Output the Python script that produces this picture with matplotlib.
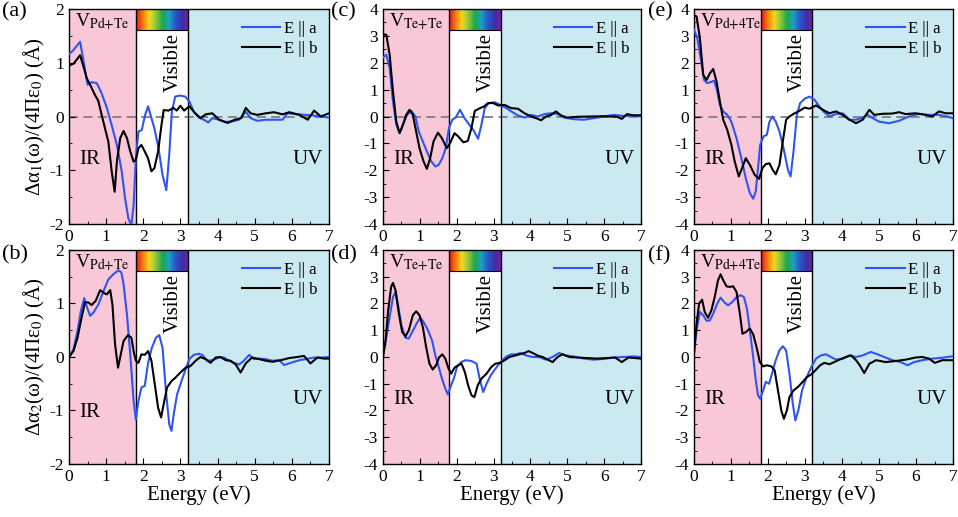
import numpy as np
import matplotlib
matplotlib.use('Agg')
import matplotlib.pyplot as plt
from matplotlib.colors import LinearSegmentedColormap

plt.rcParams['font.family'] = ['Liberation Serif', 'DejaVu Serif']
plt.rcParams['mathtext.fontset'] = 'stix'
plt.rcParams['axes.unicode_minus'] = False

# ---- data (energy in eV, polarizability change in Angstrom^3-like units) ----
# (a) real part, V_Pd+Te
a_ax = [0, 0.1, 0.3, 0.4, 0.5, 0.61, 0.75, 0.88, 1.02, 1.15, 1.29, 1.42, 1.51, 1.6, 1.68, 1.74, 1.8, 1.87, 1.96,
        2.05, 2.13, 2.22, 2.3, 2.41, 2.52, 2.62, 2.7, 2.77, 2.86, 2.99, 3.13, 3.24, 3.36, 3.5, 3.63, 3.75, 3.86,
        4.04, 4.22, 4.4, 4.58, 4.76, 4.89, 5.07, 5.3, 5.48, 5.75, 5.88, 6.2, 6.56, 7.0]
a_ay = [1.16, 1.22, 1.39, 1.0, 0.59, 0.64, 0.62, 0.43, 0.16, -0.16, -0.53, -1.02, -1.52, -1.9, -2.02, -1.65, -0.78,
        -0.28, -0.25, 0.03, 0.19, -0.03, -0.22, -0.59, -1.09, -1.37, -0.71, 0.09, 0.37, 0.39, 0.37, 0.28, 0.09,
        -0.02, -0.06, -0.11, -0.03, -0.06, -0.1, -0.09, -0.06, 0.09, -0.03, -0.08, -0.06, -0.06, -0.06, 0.06, 0.04,
        0.02, -0.02]
a_bx = [0, 0.12, 0.3, 0.39, 0.48, 0.57, 0.7, 0.79, 0.88, 0.97, 1.06, 1.15, 1.23, 1.29, 1.38, 1.47, 1.56, 1.65, 1.74,
        1.8, 1.87, 1.95, 2.04, 2.13, 2.22, 2.3, 2.4, 2.49, 2.55, 2.68, 2.81, 2.9, 3.0, 3.1, 3.24, 3.4, 3.54, 3.68,
        3.86, 4.04, 4.27, 4.46, 4.64, 4.76, 4.89, 5.07, 5.3, 5.52, 5.75, 5.93, 6.2, 6.43, 6.6, 6.78, 7.0]
a_by = [0.95, 0.98, 1.14, 0.93, 0.71, 0.59, 0.4, 0.29, 0.03, -0.22, -0.47, -1.02, -1.4, -0.84, -0.4, -0.27, -0.4,
        -0.65, -0.84, -0.81, -0.59, -0.53, -0.65, -0.78, -1.02, -0.96, -0.65, -0.16, 0.12, 0.11, 0.16, 0.11, 0.2,
        0.11, 0.19, 0.06, -0.03, 0.04, 0.06, -0.06, -0.12, -0.06, -0.03, 0.16, 0.06, 0.03, 0.06, 0.08, 0.04, 0.08,
        0.03, -0.06, 0.11, 0.0, 0.06]

# (b) imaginary part, V_Pd+Te
b_ax = [0, 0.12, 0.23, 0.32, 0.41, 0.49, 0.57, 0.66, 0.79, 0.93, 1.06, 1.2, 1.33, 1.41, 1.47, 1.56, 1.65, 1.74, 1.8,
        1.87, 1.95, 2.04, 2.13, 2.23, 2.34, 2.43, 2.52, 2.61, 2.7, 2.76, 2.82, 2.91, 3.03, 3.14, 3.24, 3.36, 3.5,
        3.59, 3.72, 3.86, 4.04, 4.17, 4.31, 4.44, 4.58, 4.71, 4.85, 4.98, 5.12, 5.3, 5.48, 5.66, 5.79, 5.97, 6.2,
        6.38, 6.6, 6.83, 7.0]
b_ay = [0, 0.14, 0.49, 0.86, 1.1, 0.92, 0.77, 0.83, 0.98, 1.23, 1.45, 1.55, 1.62, 1.58, 1.36, 0.8, 0.05, -0.82,
        -1.17, -0.82, -0.57, -0.54, -0.11, 0.17, 0.36, 0.41, 0.17, -0.64, -1.26, -1.38, -1.07, -0.7, -0.45, -0.23,
        -0.04, 0.04, 0.06, 0.04, -0.07, -0.06, -0.01, -0.01, -0.07, -0.11, -0.14, -0.07, 0.04, -0.04, -0.03, -0.04,
        -0.07, -0.06, -0.15, -0.11, -0.06, -0.04, -0.01, -0.01, 0.0]
b_bx = [0, 0.12, 0.23, 0.34, 0.43, 0.52, 0.61, 0.72, 0.84, 0.93, 1.02, 1.11, 1.17, 1.24, 1.32, 1.38, 1.47, 1.59,
        1.68, 1.74, 1.8, 1.87, 1.95, 2.04, 2.13, 2.22, 2.31, 2.4, 2.48, 2.55, 2.64, 2.76, 2.86, 3.0, 3.14, 3.27,
        3.41, 3.54, 3.68, 3.81, 3.95, 4.08, 4.22, 4.35, 4.49, 4.62, 4.76, 4.93, 5.12, 5.3, 5.48, 5.7, 5.93, 6.15,
        6.33, 6.5, 6.69, 6.87, 7.0]
b_by = [0, 0.11, 0.36, 0.74, 1.02, 1.02, 0.97, 1.05, 1.25, 1.2, 1.17, 1.25, 0.98, 0.24, -0.2, 0.0, 0.3, 0.41, 0.36,
        0.11, -0.07, -0.11, 0.05, 0.04, 0.11, -0.07, -0.51, -0.95, -1.13, -0.88, -0.57, -0.45, -0.39, -0.29, -0.2,
        -0.17, -0.07, 0.0, -0.04, -0.11, -0.01, 0.0, -0.06, -0.07, -0.14, -0.29, -0.12, -0.01, -0.04, -0.07, -0.09,
        -0.06, -0.02, 0.0, 0.02, -0.12, -0.01, -0.03, -0.03]

# (c) real part, V_Te+Te
c_ax = [0, 0.09, 0.18, 0.27, 0.36, 0.45, 0.54, 0.65, 0.77, 0.88, 0.97, 1.08, 1.19, 1.31, 1.42, 1.51, 1.61, 1.7,
        1.79, 1.88, 1.97, 2.09, 2.21, 2.31, 2.45, 2.58, 2.67, 2.76, 2.87, 3.03, 3.19, 3.35, 3.48, 3.66, 3.84, 4.02,
        4.2, 4.38, 4.56, 4.74, 4.91, 5.18, 5.45, 5.72, 5.99, 6.26, 6.53, 6.8, 7.0]
c_ay = [2.2, 2.3, 1.8, 0.56, -0.31, -0.62, -0.31, 0.06, 0.21, 0.0, -0.56, -0.93, -1.3, -1.67, -1.86, -1.8, -1.55,
        -1.18, -0.43, -0.12, -0.04, 0.25, -0.06, -0.25, -0.5, -0.83, -0.31, 0.31, 0.5, 0.53, 0.43, 0.31, 0.19, 0.04,
        -0.04, 0.06, 0.0, 0.09, 0.12, 0.09, -0.04, -0.1, -0.12, -0.06, 0.0, 0.06, 0.02, 0.04, 0.0]
c_bx = [0, 0.09, 0.18, 0.27, 0.36, 0.45, 0.54, 0.63, 0.72, 0.81, 0.9, 0.99, 1.1, 1.19, 1.28, 1.37, 1.49, 1.6, 1.73,
        1.82, 1.94, 2.04, 2.18, 2.3, 2.4, 2.49, 2.63, 2.74, 2.85, 2.99, 3.12, 3.3, 3.48, 3.66, 3.84, 4.02, 4.15,
        4.29, 4.42, 4.56, 4.69, 4.83, 5.0, 5.27, 5.63, 5.99, 6.35, 6.48, 6.62, 6.8, 7.0]
c_by = [3.06, 3.04, 2.3, 0.93, -0.19, -0.62, -0.31, 0.06, 0.25, 0.06, -0.56, -1.18, -1.67, -1.95, -1.55, -0.93,
        -0.6, -0.81, -1.18, -0.99, -0.62, -0.74, -0.96, -0.91, -0.43, 0.21, 0.31, 0.37, 0.5, 0.5, 0.41, 0.43, 0.31,
        0.29, 0.12, 0.0, -0.06, -0.14, 0.0, 0.06, 0.19, 0.04, -0.04, -0.01, 0.0, 0.01, -0.01, -0.09, 0.09, 0.04,
        0.05]

# (d) imaginary part, V_Te+Te
d_ax = [0, 0.09, 0.18, 0.27, 0.34, 0.41, 0.5, 0.61, 0.7, 0.79, 0.92, 1.01, 1.1, 1.22, 1.33, 1.42, 1.51, 1.6, 1.69,
        1.76, 1.83, 1.92, 2.01, 2.12, 2.24, 2.4, 2.54, 2.63, 2.72, 2.81, 2.92, 3.05, 3.19, 3.35, 3.48, 3.61, 3.73,
        3.88, 4.06, 4.24, 4.42, 4.6, 4.78, 4.96, 5.18, 5.45, 5.72, 5.99, 6.26, 6.53, 6.8, 7.0]
d_ay = [0.06, 0.75, 1.5, 2.24, 2.43, 1.93, 1.18, 0.72, 0.69, 0.93, 1.27, 1.47, 1.31, 1.0, 0.62, 0.06, -0.37, -0.81,
        -1.18, -1.4, -1.12, -0.81, -0.37, -0.19, -0.12, -0.15, -0.25, -0.87, -1.31, -1.0, -0.69, -0.44, -0.19, 0.02,
        0.1, 0.1, 0.15, 0.06, 0.0, 0.0, -0.1, 0.0, 0.15, 0.06, 0.02, -0.06, -0.1, -0.07, -0.02, 0.0, 0.02, 0.0]
d_bx = [0, 0.07, 0.14, 0.22, 0.27, 0.34, 0.43, 0.52, 0.61, 0.7, 0.81, 0.9, 0.99, 1.08, 1.17, 1.26, 1.35, 1.44, 1.52,
        1.61, 1.69, 1.78, 1.85, 1.94, 2.04, 2.13, 2.22, 2.31, 2.4, 2.48, 2.57, 2.67, 2.81, 2.94, 3.05, 3.17, 3.3,
        3.43, 3.57, 3.7, 3.84, 3.95, 4.06, 4.2, 4.33, 4.47, 4.6, 4.74, 4.87, 5.05, 5.27, 5.54, 5.81, 6.08, 6.3,
        6.48, 6.66, 6.84, 7.0]
d_by = [0.0, 0.62, 1.74, 2.62, 2.77, 2.49, 1.62, 0.93, 0.77, 1.0, 1.56, 1.71, 1.56, 1.12, 0.37, -0.25, -0.47,
        -0.31, -0.02, 0.1, -0.06, -0.44, -0.62, -0.4, -0.31, -0.25, -0.56, -1.06, -1.43, -1.5, -1.06, -0.81, -0.62,
        -0.37, -0.25, -0.22, -0.12, 0.0, 0.05, 0.1, 0.15, 0.22, 0.15, 0.05, 0.0, -0.1, -0.19, 0.0, 0.1, 0.0, -0.02,
        -0.04, -0.06, -0.04, -0.02, -0.19, -0.02, -0.04, -0.06]

# (e) real part, V_Pd+4Te
e_ax = [0, 0.09, 0.18, 0.27, 0.36, 0.45, 0.54, 0.61, 0.7, 0.79, 0.9, 1.01, 1.15, 1.28, 1.4, 1.51, 1.6, 1.67, 1.73,
        1.79, 1.88, 1.97, 2.04, 2.12, 2.21, 2.31, 2.42, 2.54, 2.61, 2.69, 2.78, 2.87, 2.99, 3.12, 3.26, 3.39, 3.52,
        3.66, 3.84, 4.02, 4.2, 4.38, 4.56, 4.69, 4.83, 5.0, 5.27, 5.54, 5.81, 6.08, 6.35, 6.62, 6.84, 7.0]
e_ay = [3.23, 2.92, 2.17, 1.36, 1.24, 1.28, 1.33, 1.05, 0.43, 0.19, 0.06, -0.19, -0.81, -1.55, -2.3, -2.85, -3.06,
        -2.79, -1.92, -1.05, -0.74, -0.68, -0.19, 0.0, -0.19, -0.56, -1.18, -1.99, -2.23, -1.3, 0.06, 0.5, 0.66,
        0.74, 0.62, 0.37, 0.16, 0.0, 0.09, 0.12, -0.12, -0.12, -0.04, 0.06, -0.06, -0.19, -0.25, -0.16, 0.0, 0.1,
        0.06, 0.06, 0.0, -0.06]
e_bx = [0, 0.07, 0.16, 0.25, 0.34, 0.43, 0.52, 0.61, 0.7, 0.79, 0.9, 1.01, 1.1, 1.21, 1.3, 1.4, 1.51, 1.64, 1.76,
        1.85, 1.94, 2.04, 2.13, 2.21, 2.31, 2.4, 2.49, 2.58, 2.72, 2.85, 2.99, 3.12, 3.3, 3.48, 3.66, 3.84, 4.02,
        4.2, 4.38, 4.56, 4.74, 4.87, 5.09, 5.36, 5.54, 5.72, 5.99, 6.26, 6.44, 6.62, 6.8, 7.0]
e_by = [3.76, 3.72, 2.92, 1.55, 1.36, 1.61, 1.77, 1.3, 0.56, -0.12, -0.5, -1.05, -1.67, -2.23, -1.92, -1.55, -1.8,
        -2.17, -2.32, -1.92, -1.77, -1.74, -1.99, -2.15, -1.8, -0.93, -0.12, 0.0, 0.12, 0.21, 0.33, 0.29, 0.41,
        0.25, 0.12, 0.19, 0.06, -0.12, -0.25, -0.12, 0.25, 0.06, 0.1, 0.11, 0.16, 0.09, 0.12, 0.06, 0.0, 0.19, 0.12,
        0.12]

# (f) imaginary part, V_Pd+4Te
f_ax = [0, 0.07, 0.16, 0.25, 0.34, 0.43, 0.52, 0.63, 0.72, 0.81, 0.92, 1.04, 1.15, 1.26, 1.35, 1.43, 1.51, 1.6,
        1.67, 1.73, 1.79, 1.87, 1.94, 2.03, 2.12, 2.21, 2.31, 2.4, 2.49, 2.58, 2.67, 2.74, 2.82, 2.92, 3.03, 3.17,
        3.3, 3.43, 3.57, 3.7, 3.84, 4.02, 4.2, 4.38, 4.56, 4.78, 4.96, 5.14, 5.36, 5.59, 5.77, 5.95, 6.17, 6.44,
        6.71, 7.0]
f_ay = [0.12, 1.0, 1.68, 1.56, 1.35, 1.37, 1.62, 2.0, 2.22, 2.06, 1.93, 2.06, 2.24, 2.31, 2.24, 1.81, 1.0, 0.0,
        -0.87, -1.43, -1.56, -1.25, -0.93, -1.0, -0.56, -0.12, 0.25, 0.4, 0.25, -0.62, -1.74, -2.37, -2.0, -1.25,
        -0.81, -0.37, -0.06, 0.06, 0.1, 0.0, -0.1, -0.06, 0.06, 0.0, 0.06, 0.19, 0.1, 0.0, -0.12, -0.19, -0.31,
        -0.19, -0.12, -0.06, -0.03, 0.03]
f_bx = [0, 0.07, 0.14, 0.22, 0.29, 0.38, 0.47, 0.56, 0.65, 0.72, 0.79, 0.88, 0.97, 1.06, 1.15, 1.24, 1.31, 1.4,
        1.51, 1.6, 1.69, 1.78, 1.87, 1.97, 2.09, 2.18, 2.27, 2.36, 2.43, 2.51, 2.58, 2.69, 2.81, 2.94, 3.05, 3.17,
        3.28, 3.41, 3.52, 3.66, 3.79, 3.93, 4.11, 4.24, 4.38, 4.48, 4.6, 4.74, 4.92, 5.18, 5.45, 5.72, 5.99, 6.17,
        6.35, 6.51, 6.71, 7.0]
f_by = [0.12, 1.25, 2.0, 2.14, 1.68, 1.47, 1.74, 2.24, 2.87, 3.09, 2.87, 2.64, 2.62, 2.64, 2.43, 1.62, 0.87, 0.93,
        1.06, 0.85, 0.37, -0.19, -0.35, -0.31, -0.35, -0.5, -1.25, -2.0, -2.31, -2.0, -1.5, -1.25, -1.12, -0.93,
        -0.75, -0.65, -0.5, -0.31, -0.22, -0.27, -0.19, -0.1, 0.0, 0.06, -0.12, -0.31, -0.6, -0.25, -0.12, -0.19,
        -0.15, -0.1, -0.02, 0.0, -0.06, -0.22, -0.12, -0.12]

panels = [
    ('(a)', 'Pd{+}Te', a_ax, a_ay, a_bx, a_by, (-2, 2), 1),
    ('(b)', 'Pd{+}Te', b_ax, b_ay, b_bx, b_by, (-2, 2), 2),
    ('(c)', 'Te{+}Te', c_ax, c_ay, c_bx, c_by, (-4, 4), 1),
    ('(d)', 'Te{+}Te', d_ax, d_ay, d_bx, d_by, (-4, 4), 2),
    ('(e)', 'Pd{+}4Te', e_ax, e_ay, e_bx, e_by, (-4, 4), 1),
    ('(f)', 'Pd{+}4Te', f_ax, f_ay, f_bx, f_by, (-4, 4), 2),
]

ir_color = '#F9C8D8'
uv_color = '#CBE9F0'
blue = '#2F55F0'

rainbow = LinearSegmentedColormap.from_list(
    'vis', ['#E8141E', '#F57A10', '#F7D81A', '#8CC63F', '#1DA84A', '#1AA0C8', '#2B55C8', '#3A2FA8', '#7A1FA0'])

lefts = [0.072, 0.3998, 0.7244]
widths = [0.2714, 0.2693, 0.2704]
bottoms = {1: 0.5667, 2: 0.1025}
heights = {1: 0.4159, 2: 0.414}

fig = plt.figure(figsize=(9.58, 5.17), dpi=100)

for i, (tag, site, xa, ya, xb, yb, ylim, part) in enumerate(panels):
    col = i // 2
    ax = fig.add_axes([lefts[col], bottoms[part], widths[col], heights[part]])
    y0, y1 = ylim
    span = y1 - y0

    # spectral regions
    ax.axvspan(0, 1.8, color=ir_color, lw=0, zorder=0)
    ax.axvspan(3.2, 7, color=uv_color, lw=0, zorder=0)
    ax.axvline(1.8, color='k', lw=1.0, zorder=3)
    ax.axvline(3.2, color='k', lw=1.0, zorder=3)

    # colour strip on top of visible window
    grad = np.linspace(0, 1, 256).reshape(1, -1)
    ax.imshow(grad, cmap=rainbow, aspect='auto', extent=(1.8, 3.2, y1 - 0.1 * span, y1), zorder=2)
    ax.plot([1.8, 3.2], [y1 - 0.1 * span] * 2, color='k', lw=0.8, zorder=3)

    if part == 1:
        ax.axhline(0, color='gray', ls=(0, (5, 3)), lw=1.3, zorder=1)

    ax.plot(xa, ya, color=blue, lw=1.5, label='E || a', zorder=4, solid_joinstyle='round')
    ax.plot(xb, yb, color='k', lw=1.5, label='E || b', zorder=5, solid_joinstyle='round')

    ax.set_xlim(0, 7)
    ax.set_ylim(y0, y1)
    ax.set_xticks(range(8))
    ax.set_xticks(np.arange(0, 7.01, 0.5), minor=True)
    ax.set_yticks(np.arange(y0, y1 + 0.1, 1))
    ax.set_yticks(np.arange(y0, y1 + 0.01, 0.5), minor=True)
    ax.tick_params(which='both', direction='in', labelsize=12.5, top=False, right=False)
    ax.tick_params(which='major', length=4)
    ax.tick_params(which='minor', length=2.5)
    for s in ax.spines.values():
        s.set_linewidth(1.0)

    ax.text(0.025, 0.985, r'V$_{\mathrm{' + site + '}}$', transform=ax.transAxes,
            fontsize=14, va='top', ha='left', zorder=6)
    ax.text(2.8, y0 + 0.75 * span, 'Visible', rotation=90, fontsize=15,
            ha='center', va='center', zorder=6)
    ir_y = 0.24 if tag == '(b)' else 0.30
    ax.text(0.57, y0 + ir_y * span, 'IR', fontsize=15, ha='center', va='center', zorder=6)
    ax.text(6.43, y0 + 0.30 * span, 'UV', fontsize=15, ha='center', va='center', zorder=6)

    ax.legend(loc='upper right', frameon=False, fontsize=12, handlelength=2.3,
              handletextpad=0.2, labelspacing=0.25, borderaxespad=0.3)

    if col == 0:
        sub = '1' if part == 1 else '2'
        ax.set_ylabel('Δα$_' + sub + '$(ω)/(4Πε$_0$) (Å)', fontsize=15, labelpad=2)
    if part == 2:
        ax.set_xlabel('Energy (eV)', fontsize=15, labelpad=0)

    lx = [0.002, 0.346, 0.676][col]
    ly = 0.995 if part == 1 else 0.525
    fig.text(lx, ly, tag, fontsize=16, va='top', ha='left')

fig.savefig('out.png', dpi=100)
